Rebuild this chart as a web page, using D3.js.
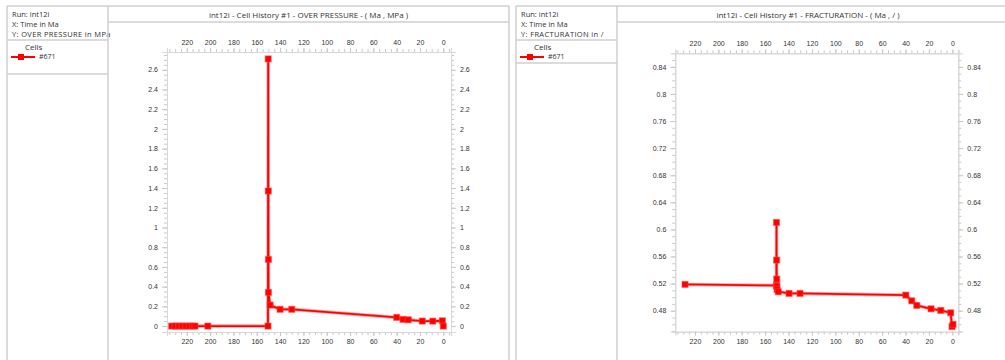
<!DOCTYPE html>
<html>
<head>
<meta charset="utf-8">
<script src="https://cdn.jsdelivr.net/npm/d3@7"></script>
<style>
  html, body { margin: 0; padding: 0; background: #fff; }
  svg { display: block; font-family: "Open Sans", "Noto Sans", sans-serif; }
  .txt { fill: #333; }
</style>
</head>
<body>
<svg id="chart" width="1005" height="360"></svg>
<script>
// Shared time axis (Ma, reversed)
const timeTicks = [220, 200, 180, 160, 140, 120, 100, 80, 60, 40, 20, 0];

// Cell #671 over-pressure history (Ma, MPa)
const pressureTime   = [233, 230, 227, 224, 221, 218, 215, 213, 202, 150.4, 150.2, 150.1, 150, 150, 148.5, 140, 130, 40, 34.5, 30, 18, 9, 0.8, 0];
const pressureValues = [0, 0, 0, 0, 0, 0, 0, 0, 0, 0, 2.71, 1.37, 0.676, 0.342, 0.213, 0.17, 0.17, 0.088, 0.068, 0.064, 0.051, 0.05, 0.054, 0];
const pressureTicks  = [0, 0.2, 0.4, 0.6, 0.8, 1, 1.2, 1.4, 1.6, 1.8, 2, 2.2, 2.4, 2.6];

// Cell #671 fracturation history (Ma, /)
const fracTime   = [228.5, 150.4, 150.3, 150.2, 150.1, 150, 149.8, 148.8, 139.6, 130.2, 39.8, 34.7, 30.4, 18.2, 9.9, 1.4, 0.3, -0.6];
const fracValues = [0.5188, 0.5173, 0.6103, 0.5547, 0.5267, 0.5163, 0.5114, 0.508, 0.5055, 0.5055, 0.503, 0.4946, 0.4878, 0.4828, 0.4804, 0.4769, 0.4566, 0.4598];
const fracTicks  = [0.48, 0.52, 0.56, 0.6, 0.64, 0.68, 0.72, 0.76, 0.8, 0.84];

const svg = d3.select("#chart");
const border = "#cfcfcf";
const fmt = d3.format("~g");

function hline(x1, x2, y) {
  svg.append("line").attr("x1", x1).attr("x2", x2).attr("y1", y).attr("y2", y)
    .attr("stroke", border).attr("stroke-width", 1.5);
}
function vline(x, y1, y2) {
  svg.append("line").attr("x1", x).attr("x2", x).attr("y1", y1).attr("y2", y2)
    .attr("stroke", border).attr("stroke-width", 1.5);
}

function panel(cfg) {
  const g = svg.append("g");

  // frame
  vline(cfg.left, 6, 360);
  vline(cfg.split, 6, 360);
  if (cfg.right < 1005) vline(cfg.right, 6, 360);
  hline(cfg.left, cfg.right, 6);
  hline(cfg.split, cfg.right, 22);
  hline(cfg.left, cfg.split, 40);
  hline(cfg.left, cfg.split, cfg.legendBottom);

  // info box
  g.append("text").attr("class", "txt").attr("x", cfg.left + 5).attr("y", 14)
    .attr("dy", "0.35em").attr("font-size", 7.5).text("Run: int12i");
  g.append("text").attr("class", "txt").attr("x", cfg.left + 5).attr("y", 24.5)
    .attr("dy", "0.35em").attr("font-size", 7.5).text("X: Time in Ma");
  g.append("text").attr("class", "txt").attr("x", cfg.left + 5).attr("y", 34)
    .attr("dy", "0.35em").attr("font-size", 7.5).attr("letter-spacing", 0.35).text(cfg.yInfo);
  g.append("text").attr("class", "txt").attr("x", cfg.left + 18).attr("y", 47.5)
    .attr("dy", "0.35em").attr("font-size", 8).text("Cells");
  g.append("line").attr("x1", cfg.left + 4).attr("x2", cfg.left + 28)
    .attr("y1", 57).attr("y2", 57).attr("stroke", "#f00").attr("stroke-width", 2);
  g.append("rect").attr("x", cfg.left + 11).attr("y", 54).attr("width", 6).attr("height", 6)
    .attr("fill", "#f00");
  g.append("text").attr("class", "txt").attr("x", cfg.left + 32).attr("y", 57)
    .attr("dy", "0.35em").attr("font-size", 7).text("#671");

  // title
  g.append("text").attr("class", "txt").attr("x", (cfg.split + cfg.titleRight) / 2).attr("y", 15)
    .attr("dy", "0.35em").attr("text-anchor", "middle").attr("font-size", 8).text(cfg.title);

  // scales
  const x = d3.scaleLinear().domain(cfg.xDomain).range([cfg.px0, cfg.px1]);
  const y = d3.scaleLinear().domain(cfg.yDomain).range([cfg.py1, cfg.py0]);

  const xMinor = d3.range(235, -6, -5).filter(v => v >= Math.min(...cfg.xDomain) && v <= Math.max(...cfg.xDomain));
  const yMinor = d3.range(cfg.yMinorStart, cfg.yDomain[1], cfg.yMinorStep).map(v => +v.toFixed(4))
    .filter(v => v >= cfg.yDomain[0]);

  function styleAxis(sel) {
    sel.selectAll(".domain").attr("stroke", "#d8d8d8");
    sel.selectAll(".tick line").attr("stroke", "#c8c8c8");
    sel.selectAll(".tick text").attr("font-size", 7).attr("fill", "#333");
  }
  function minor(axisGen) {
    return axisGen.tickSize(3).tickFormat("");
  }

  // minor ticks
  g.append("g").attr("transform", `translate(0,${cfg.py0})`)
    .call(minor(d3.axisTop(x).tickValues(xMinor))).call(styleAxis);
  g.append("g").attr("transform", `translate(0,${cfg.py1})`)
    .call(minor(d3.axisBottom(x).tickValues(xMinor))).call(styleAxis);
  g.append("g").attr("transform", `translate(${cfg.px0},0)`)
    .call(minor(d3.axisLeft(y).tickValues(yMinor))).call(styleAxis);
  g.append("g").attr("transform", `translate(${cfg.px1},0)`)
    .call(minor(d3.axisRight(y).tickValues(yMinor))).call(styleAxis);

  // major ticks
  g.append("g").attr("transform", `translate(0,${cfg.py0})`)
    .call(d3.axisTop(x).tickValues(timeTicks).tickSize(4).tickPadding(3)).call(styleAxis);
  g.append("g").attr("transform", `translate(0,${cfg.py1})`)
    .call(d3.axisBottom(x).tickValues(timeTicks).tickSize(4).tickPadding(3)).call(styleAxis);
  g.append("g").attr("transform", `translate(${cfg.px0},0)`)
    .call(d3.axisLeft(y).tickValues(cfg.yTicks).tickFormat(fmt).tickSize(5).tickPadding(4)).call(styleAxis);
  g.append("g").attr("transform", `translate(${cfg.px1},0)`)
    .call(d3.axisRight(y).tickValues(cfg.yTicks).tickFormat(fmt).tickSize(5).tickPadding(4)).call(styleAxis);

  // series
  const pts = cfg.times.map((t, i) => [t, cfg.values[i]]);
  const line = d3.line().x(d => x(d[0])).y(d => y(d[1]));
  g.append("path").datum(pts).attr("d", line).attr("fill", "none")
    .attr("stroke", "rgba(255,0,0,0.35)").attr("stroke-width", 3.5).attr("stroke-linejoin", "round");
  g.append("path").datum(pts).attr("d", line).attr("fill", "none")
    .attr("stroke", "#f00").attr("stroke-width", 1.8).attr("stroke-linejoin", "round");
  g.selectAll("rect.pt").data(pts).join("rect").attr("class", "pt")
    .attr("x", d => x(d[0]) - 3).attr("y", d => y(d[1]) - 3)
    .attr("width", 6).attr("height", 6)
    .attr("fill", "#f00").attr("stroke", "rgba(255,60,60,0.5)").attr("stroke-width", 1.2);
}

panel({
  left: 7, split: 108, right: 509, titleRight: 509, legendBottom: 74,
  yInfo: "Y: OVER PRESSURE in MPa",
  title: "int12i - Cell History #1 - OVER PRESSURE - ( Ma , MPa )",
  xDomain: [237, -6.6], px0: 167, px1: 451,
  yDomain: [-0.06, 2.78], py0: 52, py1: 332,
  yTicks: pressureTicks, yMinorStart: 0, yMinorStep: 0.05,
  times: pressureTime, values: pressureValues
});

panel({
  left: 516, split: 617, right: 1010, titleRight: 999, legendBottom: 63,
  yInfo: "Y: FRACTURATION in /",
  title: "int12i - Cell History #1 - FRACTURATION - ( Ma , / )",
  xDomain: [236.8, -5.1], px0: 675.3, px1: 958.3,
  yDomain: [0.449, 0.86], py0: 53.3, py1: 331.7,
  yTicks: fracTicks, yMinorStart: 0.45, yMinorStep: 0.01,
  times: fracTime, values: fracValues
});
</script>
</body>
</html>
